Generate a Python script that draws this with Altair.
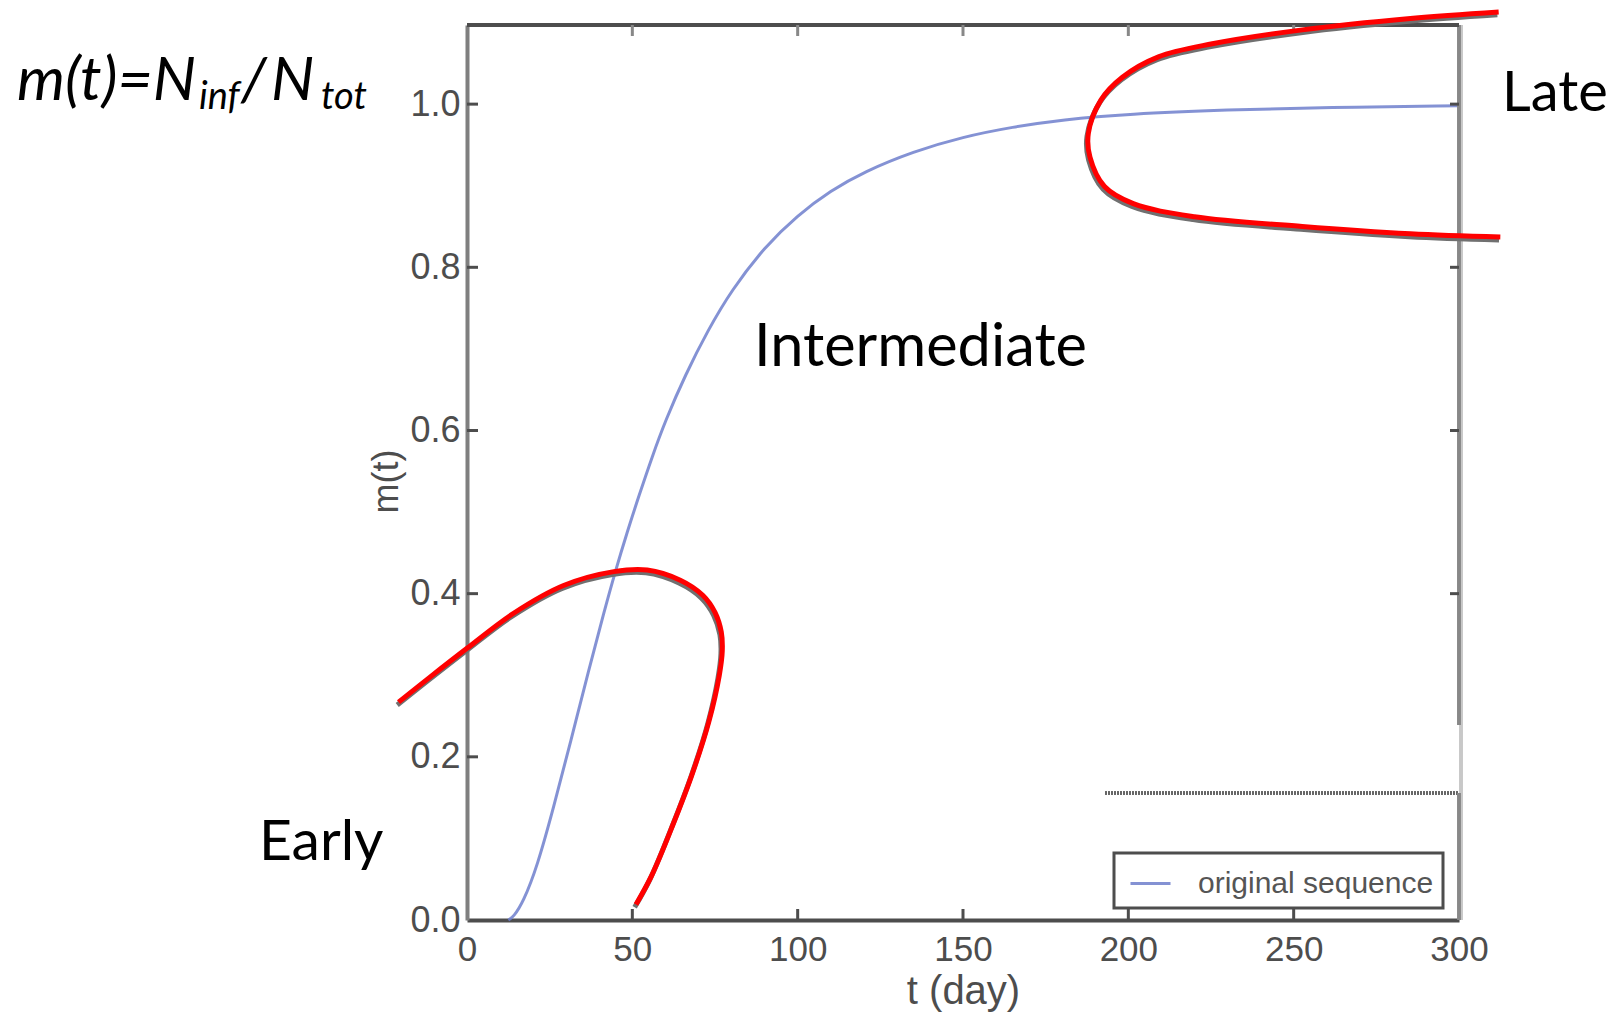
import altair as alt
import pandas as pd

# ---------------- data ----------------
blue_t = [12.5, 14.1, 17.0, 21.2, 26.2, 31.3, 36.8, 41.4, 44.9, 48.4, 52.0, 56.0, 60.0,
          66.0, 73.0, 80.0, 90.0, 100.0, 110.0, 120.0, 135.0, 150.0, 165.0, 180.0,
          200.0, 230.0, 260.0, 300.0]
blue_m = [0.0, 0.004, 0.022, 0.065, 0.138, 0.218, 0.306, 0.377, 0.428, 0.475, 0.52, 0.568,
          0.612, 0.668, 0.724, 0.772, 0.825, 0.864, 0.894, 0.917, 0.942, 0.960, 0.972,
          0.981, 0.988, 0.993, 0.996, 0.998]

early_t = [-20.7, -11.1, 0.0, 14.1, 29.2, 44.4, 54.5, 64.5, 71.3, 75.0, 76.9, 77.2, 76.3,
           73.2, 68.2, 62.3, 55.8, 51.1]
early_m = [0.267, 0.298, 0.333, 0.376, 0.41, 0.427, 0.429, 0.4165, 0.398, 0.377, 0.353,
           0.33, 0.300, 0.244, 0.18, 0.117, 0.054, 0.019]

late_t = [312.0, 285.3, 252.6, 225.4, 209.1, 198.2, 191.7, 187.9, 188.4, 192.8, 201.5,
          220.0, 252.6, 285.3, 312.5]
late_m = [1.113, 1.105, 1.091, 1.074, 1.058, 1.033, 1.005, 0.964, 0.935, 0.899, 0.878,
          0.862, 0.85, 0.841, 0.837]

x_ticks = [0, 50, 100, 150, 200, 250, 300]
y_ticks = [0.0, 0.2, 0.4, 0.6, 0.8, 1.0]
series_name = "original sequence"
phase_labels = ["Early", "Intermediate", "Late"]

# ---------------- tables ----------------
blue = pd.DataFrame({"t": blue_t, "m": blue_m, "series": [series_name] * len(blue_t)})
red = pd.concat([
    pd.DataFrame({"t": early_t, "m": early_m, "curve": "early", "i": range(len(early_t))}),
    pd.DataFrame({"t": late_t, "m": late_m, "curve": "late", "i": range(len(late_t))}),
])
xt = pd.DataFrame({"v": x_ticks[1:-1]})
yt = pd.DataFrame({"v": y_ticks[1:]})
yt_right = pd.DataFrame({"v": [v for v in y_ticks if v >= 0.4]})

W, H = 992, 895
XS = alt.Scale(domain=[0, 300], nice=False, zero=False)
YS = alt.Scale(domain=[0, 1.097], nice=False, zero=False)
GRAY = "#4d4d4d"
SANS = "Liberation Sans"

X_AXIS = alt.Axis(values=x_ticks, title="t (day)", ticks=False, grid=False,
                  labelFont=SANS, labelFontSize=35, labelColor=GRAY, labelPadding=12,
                  labelOverlap=False, labelFlush=False,
                  titleFont=SANS, titleFontSize=40, titleColor=GRAY, titleFontWeight="normal",
                  titleBaseline="alphabetic", titleY=83,
                  domainColor=GRAY, domainWidth=4)
Y_AXIS = alt.Axis(values=y_ticks, format=".1f", title="m(t)", ticks=False, grid=False,
                  labelFont=SANS, labelFontSize=36, labelColor=GRAY, labelPadding=7,
                  labelOverlap=False, labelFlush=False,
                  titleFont=SANS, titleFontSize=36, titleColor=GRAY, titleFontWeight="normal",
                  titleAngle=270, titleX=-81, titleY=456, titleAlign="center",
                  titleBaseline="middle",
                  domainColor="#7f7f7f", domainWidth=4)


def X(field):
    return alt.X(field, scale=XS, axis=X_AXIS)


def Y(field):
    return alt.Y(field, scale=YS, axis=Y_AXIS)


base_blue = alt.Chart(blue).mark_line(strokeWidth=3, opacity=0.85, interpolate="basis").encode(
    x=X("t:Q"),
    y=Y("m:Q"),
    color=alt.Color("series:N", scale=alt.Scale(domain=[series_name], range=["#6f7fcc"]),
                    legend=alt.Legend(orient="none", legendX=647, legendY=828, title=None,
                                      symbolType="stroke", symbolStrokeWidth=3, symbolSize=1600,
                                      symbolOffset=6, labelOffset=26, labelLimit=600,
                                      labelFont=SANS, labelFontSize=30, labelColor="#555555",
                                      padding=9, strokeColor=GRAY)),
)

red_shadow = alt.Chart(red).transform_calculate(
    ts="datum.t - 0.4", ms="datum.m - 0.0035"
).mark_line(color="#707070", strokeWidth=5, interpolate="catmull-rom").encode(
    x=X("ts:Q"), y=Y("ms:Q"), detail="curve:N", order="i:Q",
)
red_line = alt.Chart(red).mark_line(color="#ff0000", strokeWidth=5, interpolate="catmull-rom").encode(
    x=X("t:Q"), y=Y("m:Q"), detail="curve:N", order="i:Q",
)

# frame (spines) and inward ticks
spine_top = alt.Chart(xt).mark_rule(color=GRAY, strokeWidth=4).encode(
    x=alt.value(0), x2=alt.value(W), y=alt.value(0))
spine_right_light = alt.Chart(xt).mark_rule(color="#c8c8c8", strokeWidth=3).encode(
    x=alt.value(W + 2), y=alt.value(0), y2=alt.value(H))
spine_right_a = alt.Chart(xt).mark_rule(color="#888888", strokeWidth=3).encode(
    x=alt.value(W), y=alt.value(0), y2=alt.value(700))
spine_right_b = alt.Chart(xt).mark_rule(color="#888888", strokeWidth=3).encode(
    x=alt.value(W), y=alt.value(768), y2=alt.value(H))
stray_line = alt.Chart(xt).mark_rule(color="#666666", strokeWidth=3, strokeDash=[2, 1]).encode(
    x=alt.value(638), x2=alt.value(W), y=alt.value(768))

tick_bottom = alt.Chart(xt).mark_rule(color=GRAY, strokeWidth=3).encode(
    x=X("v:Q"), y=alt.value(H), y2=alt.value(H - 11))
tick_top = alt.Chart(xt).mark_rule(color="#888888", strokeWidth=3).encode(
    x=X("v:Q"), y=alt.value(0), y2=alt.value(11))
tick_left = alt.Chart(yt).mark_rule(color=GRAY, strokeWidth=3).encode(
    y=Y("v:Q"), x=alt.value(0), x2=alt.value(11))
tick_right = alt.Chart(yt_right).mark_rule(color=GRAY, strokeWidth=3).encode(
    y=Y("v:Q"), x=alt.value(W), x2=alt.value(W - 9))


def txt(label, x, y, size, font="Lato", style="normal"):
    return alt.Chart(pd.DataFrame({"label": [label]})).mark_text(
        align="left", baseline="alphabetic", font=font, fontSize=size, fontStyle=style,
        color="#000000").encode(text="label:N", x=alt.value(x), y=alt.value(y))


annotations = [
    txt(phase_labels[0], -208, 835, 57),
    txt(phase_labels[1], 287, 341, 59.5),
    txt(phase_labels[2], 1035, 86, 56),
    txt("m(t)=N", -450, 75, 61, style="italic"),
    txt("inf", -268, 84, 38, style="italic"),
    txt("/", -226, 75, 61, style="italic"),
    txt("N", -196, 75, 61, style="italic"),
    txt("tot", -146, 84, 38, style="italic"),
]

chart = alt.layer(
    base_blue, stray_line, spine_right_light, spine_right_a, spine_right_b, spine_top,
    tick_bottom, tick_top, tick_left, tick_right, red_shadow, red_line, *annotations
).properties(
    width=W, height=H,
    padding={"left": 467, "top": 25, "right": 1615 - 467 - W, "bottom": 1012 - 25 - H},
    autosize=alt.AutoSizeParams(type="none"),
    background="white",
).configure_view(stroke=None).configure_legend(strokeWidth=3)

chart.save("out.html", embed_options={"renderer": "svg", "actions": False})
